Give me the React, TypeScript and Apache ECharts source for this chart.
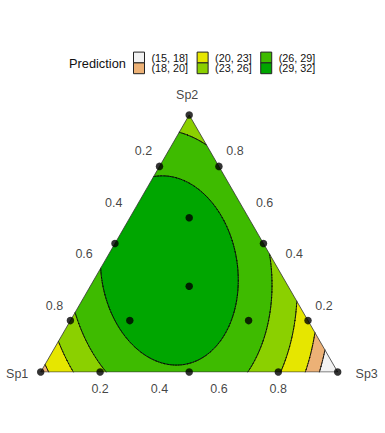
import React, { useEffect, useRef } from "react";
import * as echarts from "echarts";

// ---------- data ----------
const speciesNames = ["Sp1", "Sp2", "Sp3"];
// fitted mixture model: identity effects (Sp1, Sp2, Sp3) and pairwise interactions
const identityEffects = [18.9, 24.3, 15.1];
const interactionPairs = [
  [0, 1],
  [0, 2],
  [1, 2],
];
const interactionEffects = [32.9, 46.2, 26.9];

const bandBreaks = [15, 18, 20, 23, 26, 29, 32];
const bandLabels = ["(15, 18]", "(18, 20]", "(20, 23]", "(23, 26]", "(26, 29]", "(29, 32]"];
const bandColors = ["#F2F2F2", "#ECB176", "#E6E600", "#8BD000", "#3EBB00", "#00A600"];

const designSp1 = [1, 0, 0, 0.8, 0.2, 0.8, 0.2, 0, 0, 0.5, 0.5, 0, 1 / 3, 0.6, 0.2, 0.2];
const designSp2 = [0, 1, 0, 0.2, 0.8, 0, 0, 0.8, 0.2, 0.5, 0, 0.5, 1 / 3, 0.2, 0.6, 0.2];
const designSp3 = [0, 0, 1, 0, 0, 0.2, 0.8, 0.2, 0.8, 0, 0.5, 0.5, 1 / 3, 0.2, 0.2, 0.6];

const axisTicks = [0.2, 0.4, 0.6, 0.8];

// ---------- helpers ----------
const MESH_N = 90;
const FONT = "'Liberation Sans', Arial, Helvetica, sans-serif";
const TEXT_COLOR = "#111";

type P3 = [number, number, number];
type V = [number, number, number]; // x, y, value

function toXY(p: P3): [number, number] {
  const s = p[0] + p[1] + p[2];
  const p2 = p[1] / s;
  const p3 = p[2] / s;
  return [p3 + p2 / 2, p2];
}

function predict(p: P3): number {
  let v = 0;
  for (let i = 0; i < 3; i++) v += identityEffects[i] * p[i];
  interactionPairs.forEach((pr, k) => {
    v += interactionEffects[k] * p[pr[0]] * p[pr[1]];
  });
  return v;
}

function clip(poly: V[], level: number, keepAbove: boolean): V[] {
  const out: V[] = [];
  const inside = (a: V) => (keepAbove ? a[2] >= level : a[2] <= level);
  for (let i = 0; i < poly.length; i++) {
    const a = poly[i];
    const b = poly[(i + 1) % poly.length];
    const ia = inside(a);
    const ib = inside(b);
    if (ia) out.push(a);
    if (ia !== ib) {
      const t = (level - a[2]) / (b[2] - a[2]);
      out.push([a[0] + t * (b[0] - a[0]), a[1] + t * (b[1] - a[1]), level]);
    }
  }
  return out;
}

function buildMesh(): V[][] {
  const pt = (i: number, j: number): V => {
    const p: P3 = [(MESH_N - i - j) / MESH_N, j / MESH_N, i / MESH_N];
    const xy = toXY(p);
    return [xy[0], xy[1], predict(p)];
  };
  const tris: V[][] = [];
  for (let j = 0; j < MESH_N; j++) {
    for (let i = 0; i + j < MESH_N; i++) {
      tris.push([pt(i, j), pt(i + 1, j), pt(i, j + 1)]);
      if (i + j <= MESH_N - 2) tris.push([pt(i + 1, j), pt(i + 1, j + 1), pt(i, j + 1)]);
    }
  }
  return tris;
}

const mesh = buildMesh();

const bandPieces: V[][][] = bandLabels.map((_, k) => {
  const lo = k === 0 ? -Infinity : bandBreaks[k];
  const hi = k === bandLabels.length - 1 ? Infinity : bandBreaks[k + 1];
  const pieces: V[][] = [];
  for (const tri of mesh) {
    let poly = tri;
    if (lo > -Infinity) poly = clip(poly, lo, true);
    if (poly.length >= 3 && hi < Infinity) poly = clip(poly, hi, false);
    if (poly.length >= 3) pieces.push(poly);
  }
  return pieces;
});

const contourLevels = bandBreaks.slice(1, -1);
const contourSegments: [number, number][][][] = contourLevels.map((L) => {
  const segs: [number, number][][] = [];
  for (const tri of mesh) {
    const pts: [number, number][] = [];
    for (let e = 0; e < 3; e++) {
      const a = tri[e];
      const b = tri[(e + 1) % 3];
      if ((a[2] - L) * (b[2] - L) < 0) {
        const t = (L - a[2]) / (b[2] - a[2]);
        pts.push([a[0] + t * (b[0] - a[0]), a[1] + t * (b[1] - a[1])]);
      }
    }
    if (pts.length === 2) segs.push(pts);
  }
  return segs;
});

const f2 = (n: number) => n.toFixed(2);

export default function App() {
  const ref = useRef<HTMLDivElement>(null);
  useEffect(() => {
    document.body.style.margin = "0";
    if (!ref.current) return;
    const chart = echarts.init(ref.current, undefined, { renderer: "svg" });

    const bandSeries = bandLabels.map((name, k) => ({
      type: "custom",
      name,
      coordinateSystem: "cartesian2d",
      silent: true,
      z: 1,
      itemStyle: { color: bandColors[k] },
      data: [[0, 0]],
      renderItem: (_p: any, api: any) => {
        let d = "";
        for (const poly of bandPieces[k]) {
          poly.forEach((pt, idx) => {
            const c = api.coord([pt[0], pt[1]]);
            d += (idx ? "L" : "M") + f2(c[0]) + " " + f2(c[1]);
          });
          d += "Z";
        }
        return {
          type: "path",
          shape: { pathData: d },
          style: { fill: bandColors[k], stroke: "none" },
        };
      },
    }));

    const contourSeries = {
      type: "custom",
      name: "contours",
      coordinateSystem: "cartesian2d",
      silent: true,
      z: 2,
      data: contourLevels.map((_, i) => [i, 0]),
      renderItem: (params: any, api: any) => {
        const segs = contourSegments[params.dataIndex];
        let d = "";
        for (const s of segs) {
          const a = api.coord(s[0]);
          const b = api.coord(s[1]);
          d += "M" + f2(a[0]) + " " + f2(a[1]) + "L" + f2(b[0]) + " " + f2(b[1]);
        }
        return {
          type: "path",
          shape: { pathData: d },
          style: { fill: "none", stroke: "#000", lineWidth: 0.8, lineCap: "round" },
        };
      },
    };

    const vertices: P3[] = [
      [1, 0, 0],
      [0, 1, 0],
      [0, 0, 1],
    ];
    const borderSeries = {
      type: "line",
      name: "border",
      silent: true,
      z: 3,
      symbol: "none",
      lineStyle: { color: "#333", width: 0.8 },
      data: [vertices[0], vertices[2], vertices[1], vertices[0]].map(toXY),
    };

    const designSeries = {
      type: "scatter",
      name: "design",
      silent: true,
      z: 5,
      symbol: "circle",
      symbolSize: 7.5,
      itemStyle: { color: "#000" },
      data: designSp1.map((v, i) => toXY([v, designSp2[i], designSp3[i]])),
    };

    const labelStyle = {
      show: true,
      position: "inside",
      formatter: "{b}",
      fontFamily: FONT,
      fontSize: 12.5,
      color: TEXT_COLOR,
      align: "center",
      verticalAlign: "middle",
    };

    const tickSeries = (data: any[], offset: number[]) => ({
      type: "scatter",
      silent: true,
      z: 6,
      symbolSize: 0,
      itemStyle: { color: "transparent" },
      label: { ...labelStyle, offset },
      data,
    });

    const sp1Ticks = axisTicks.map((v) => ({ name: String(v), value: toXY([v, 1 - v, 0]) }));
    const sp2Ticks = axisTicks.map((v) => ({ name: String(v), value: toXY([0, v, 1 - v]) }));
    const sp3Ticks = axisTicks.map((v) => ({ name: String(v), value: toXY([1 - v, 0, v]) }));

    const vertexOffsets = [
      [-23.5, 1.5],
      [-2, -20],
      [29, 1.5],
    ];
    const vertexLabelSeries = speciesNames.map((nm, i) =>
      tickSeries([{ name: nm, value: toXY(vertices[i]) }], vertexOffsets[i])
    );

    const legendCommon = {
      orient: "horizontal",
      padding: 0,
      itemWidth: 11,
      itemHeight: 10.8,
      itemGap: 8.5,
      icon: "rect",
      selectedMode: false,
      textStyle: {
        fontFamily: FONT,
        fontSize: 10.8,
        color: TEXT_COLOR,
        lineHeight: 11,
        padding: [0, 0, 0, 2],
      },
    };
    const legendItem = (k: number) => ({
      name: bandLabels[k],
      itemStyle: { color: bandColors[k], borderColor: "#222", borderWidth: 1 },
    });

    chart.setOption({
      animation: false,
      title: {
        text: "Prediction",
        left: 69,
        top: 56.5,
        padding: 0,
        textStyle: {
          fontFamily: FONT,
          fontSize: 12.8,
          fontWeight: "normal",
          color: TEXT_COLOR,
          lineHeight: 13,
        },
      },
      legend: [
        {
          ...legendCommon,
          left: 133,
          top: 51.6,
          data: [0, 2, 4].map(legendItem),
        },
        {
          ...legendCommon,
          left: 133,
          top: 62.4,
          data: [1, 3, 5].map(legendItem),
        },
      ],
      grid: { left: 40.7, top: 115, width: 297, height: 257 },
      xAxis: { type: "value", min: 0, max: 1, show: false },
      yAxis: { type: "value", min: 0, max: 1, show: false },
      series: [
        ...bandSeries,
        contourSeries,
        borderSeries,
        designSeries,
        tickSeries(sp1Ticks, [-16, -15]),
        tickSeries(sp2Ticks, [16, -15]),
        tickSeries(sp3Ticks, [0, 17]),
        ...vertexLabelSeries,
      ],
    } as any);
    return () => chart.dispose();
  }, []);
  return <div ref={ref} style={{ width: 385, height: 433 }} />;
}
